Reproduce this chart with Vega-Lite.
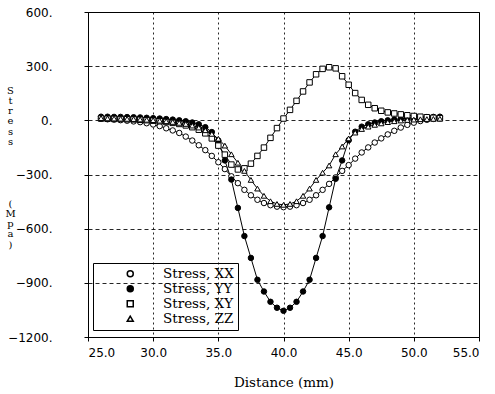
{
"$schema":"https://vega.github.io/schema/vega-lite/v6.json",
"width":391,"height":325,
"autosize":{"type":"none"},
"padding":{"left":88,"top":12,"right":16,"bottom":57},
"background":"white",
"data":{"values":[
{"x":26,"y":8,"s":"XX"},{"x":26.5,"y":6,"s":"XX"},{"x":27,"y":4,"s":"XX"},{"x":27.5,"y":1,"s":"XX"},{"x":28,"y":-2,"s":"XX"},{"x":28.5,"y":-6,"s":"XX"},{"x":29,"y":-10,"s":"XX"},{"x":29.5,"y":-16,"s":"XX"},{"x":30,"y":-23,"s":"XX"},{"x":30.5,"y":-32,"s":"XX"},{"x":31,"y":-44,"s":"XX"},{"x":31.5,"y":-56,"s":"XX"},{"x":32,"y":-70,"s":"XX"},{"x":32.5,"y":-90,"s":"XX"},{"x":33,"y":-112,"s":"XX"},{"x":33.5,"y":-138,"s":"XX"},{"x":34,"y":-165,"s":"XX"},{"x":34.5,"y":-197,"s":"XX"},{"x":35,"y":-232,"s":"XX"},{"x":35.5,"y":-270,"s":"XX"},{"x":36,"y":-310,"s":"XX"},{"x":36.5,"y":-348,"s":"XX"},{"x":37,"y":-385,"s":"XX"},{"x":37.5,"y":-415,"s":"XX"},{"x":38,"y":-440,"s":"XX"},{"x":38.5,"y":-458,"s":"XX"},{"x":39,"y":-470,"s":"XX"},{"x":39.5,"y":-478,"s":"XX"},{"x":40,"y":-481,"s":"XX"},{"x":40.5,"y":-478,"s":"XX"},{"x":41,"y":-470,"s":"XX"},{"x":41.5,"y":-458,"s":"XX"},{"x":42,"y":-440,"s":"XX"},{"x":42.5,"y":-415,"s":"XX"},{"x":43,"y":-385,"s":"XX"},{"x":43.5,"y":-352,"s":"XX"},{"x":44,"y":-316,"s":"XX"},{"x":44.5,"y":-280,"s":"XX"},{"x":45,"y":-248,"s":"XX"},{"x":45.5,"y":-212,"s":"XX"},{"x":46,"y":-178,"s":"XX"},{"x":46.5,"y":-150,"s":"XX"},{"x":47,"y":-123,"s":"XX"},{"x":47.5,"y":-100,"s":"XX"},{"x":48,"y":-78,"s":"XX"},{"x":48.5,"y":-58,"s":"XX"},{"x":49,"y":-40,"s":"XX"},{"x":49.5,"y":-25,"s":"XX"},{"x":50,"y":-13,"s":"XX"},{"x":50.5,"y":-4,"s":"XX"},{"x":51,"y":3,"s":"XX"},{"x":51.5,"y":8,"s":"XX"},{"x":52,"y":12,"s":"XX"},
{"x":26,"y":20,"s":"YY"},{"x":26.5,"y":20,"s":"YY"},{"x":27,"y":19,"s":"YY"},{"x":27.5,"y":19,"s":"YY"},{"x":28,"y":18,"s":"YY"},{"x":28.5,"y":17,"s":"YY"},{"x":29,"y":16,"s":"YY"},{"x":29.5,"y":14,"s":"YY"},{"x":30,"y":12,"s":"YY"},{"x":30.5,"y":10,"s":"YY"},{"x":31,"y":7,"s":"YY"},{"x":31.5,"y":4,"s":"YY"},{"x":32,"y":0,"s":"YY"},{"x":32.5,"y":-5,"s":"YY"},{"x":33,"y":-12,"s":"YY"},{"x":33.5,"y":-22,"s":"YY"},{"x":34,"y":-38,"s":"YY"},{"x":34.5,"y":-65,"s":"YY"},{"x":35,"y":-112,"s":"YY"},{"x":35.5,"y":-222,"s":"YY"},{"x":36,"y":-328,"s":"YY"},{"x":36.5,"y":-485,"s":"YY"},{"x":37,"y":-641,"s":"YY"},{"x":37.5,"y":-762,"s":"YY"},{"x":38,"y":-883,"s":"YY"},{"x":38.5,"y":-948,"s":"YY"},{"x":39,"y":-1005,"s":"YY"},{"x":39.5,"y":-1038,"s":"YY"},{"x":40,"y":-1055,"s":"YY"},{"x":40.5,"y":-1038,"s":"YY"},{"x":41,"y":-1005,"s":"YY"},{"x":41.5,"y":-948,"s":"YY"},{"x":42,"y":-883,"s":"YY"},{"x":42.5,"y":-762,"s":"YY"},{"x":43,"y":-641,"s":"YY"},{"x":43.5,"y":-482,"s":"YY"},{"x":44,"y":-324,"s":"YY"},{"x":44.5,"y":-222,"s":"YY"},{"x":45,"y":-110,"s":"YY"},{"x":45.5,"y":-63,"s":"YY"},{"x":46,"y":-35,"s":"YY"},{"x":46.5,"y":-22,"s":"YY"},{"x":47,"y":-12,"s":"YY"},{"x":47.5,"y":-5,"s":"YY"},{"x":48,"y":0,"s":"YY"},{"x":48.5,"y":4,"s":"YY"},{"x":49,"y":8,"s":"YY"},{"x":49.5,"y":11,"s":"YY"},{"x":50,"y":14,"s":"YY"},{"x":50.5,"y":16,"s":"YY"},{"x":51,"y":18,"s":"YY"},{"x":51.5,"y":19,"s":"YY"},{"x":52,"y":20,"s":"YY"},
{"x":26,"y":10,"s":"XY"},{"x":26.5,"y":9,"s":"XY"},{"x":27,"y":8,"s":"XY"},{"x":27.5,"y":7,"s":"XY"},{"x":28,"y":6,"s":"XY"},{"x":28.5,"y":5,"s":"XY"},{"x":29,"y":3,"s":"XY"},{"x":29.5,"y":1,"s":"XY"},{"x":30,"y":-2,"s":"XY"},{"x":30.5,"y":-5,"s":"XY"},{"x":31,"y":-9,"s":"XY"},{"x":31.5,"y":-14,"s":"XY"},{"x":32,"y":-20,"s":"XY"},{"x":32.5,"y":-28,"s":"XY"},{"x":33,"y":-38,"s":"XY"},{"x":33.5,"y":-52,"s":"XY"},{"x":34,"y":-72,"s":"XY"},{"x":34.5,"y":-100,"s":"XY"},{"x":35,"y":-140,"s":"XY"},{"x":35.5,"y":-190,"s":"XY"},{"x":36,"y":-245,"s":"XY"},{"x":36.5,"y":-272,"s":"XY"},{"x":37,"y":-266,"s":"XY"},{"x":37.5,"y":-240,"s":"XY"},{"x":38,"y":-197,"s":"XY"},{"x":38.5,"y":-151,"s":"XY"},{"x":39,"y":-97,"s":"XY"},{"x":39.5,"y":-43,"s":"XY"},{"x":40,"y":10,"s":"XY"},{"x":40.5,"y":58,"s":"XY"},{"x":41,"y":108,"s":"XY"},{"x":41.5,"y":160,"s":"XY"},{"x":42,"y":210,"s":"XY"},{"x":42.5,"y":255,"s":"XY"},{"x":43,"y":285,"s":"XY"},{"x":43.5,"y":294,"s":"XY"},{"x":44,"y":288,"s":"XY"},{"x":44.5,"y":244,"s":"XY"},{"x":45,"y":197,"s":"XY"},{"x":45.5,"y":151,"s":"XY"},{"x":46,"y":113,"s":"XY"},{"x":46.5,"y":86,"s":"XY"},{"x":47,"y":67,"s":"XY"},{"x":47.5,"y":53,"s":"XY"},{"x":48,"y":44,"s":"XY"},{"x":48.5,"y":38,"s":"XY"},{"x":49,"y":33,"s":"XY"},{"x":49.5,"y":28,"s":"XY"},{"x":50,"y":24,"s":"XY"},{"x":50.5,"y":20,"s":"XY"},{"x":51,"y":17,"s":"XY"},{"x":51.5,"y":14,"s":"XY"},{"x":52,"y":12,"s":"XY"},
{"x":26,"y":12,"s":"ZZ"},{"x":26.5,"y":11,"s":"ZZ"},{"x":27,"y":10,"s":"ZZ"},{"x":27.5,"y":9,"s":"ZZ"},{"x":28,"y":8,"s":"ZZ"},{"x":28.5,"y":7,"s":"ZZ"},{"x":29,"y":5,"s":"ZZ"},{"x":29.5,"y":3,"s":"ZZ"},{"x":30,"y":1,"s":"ZZ"},{"x":30.5,"y":-2,"s":"ZZ"},{"x":31,"y":-5,"s":"ZZ"},{"x":31.5,"y":-9,"s":"ZZ"},{"x":32,"y":-14,"s":"ZZ"},{"x":32.5,"y":-20,"s":"ZZ"},{"x":33,"y":-29,"s":"ZZ"},{"x":33.5,"y":-40,"s":"ZZ"},{"x":34,"y":-55,"s":"ZZ"},{"x":34.5,"y":-75,"s":"ZZ"},{"x":35,"y":-102,"s":"ZZ"},{"x":35.5,"y":-140,"s":"ZZ"},{"x":36,"y":-188,"s":"ZZ"},{"x":36.5,"y":-235,"s":"ZZ"},{"x":37,"y":-280,"s":"ZZ"},{"x":37.5,"y":-330,"s":"ZZ"},{"x":38,"y":-378,"s":"ZZ"},{"x":38.5,"y":-418,"s":"ZZ"},{"x":39,"y":-448,"s":"ZZ"},{"x":39.5,"y":-463,"s":"ZZ"},{"x":40,"y":-468,"s":"ZZ"},{"x":40.5,"y":-463,"s":"ZZ"},{"x":41,"y":-448,"s":"ZZ"},{"x":41.5,"y":-418,"s":"ZZ"},{"x":42,"y":-378,"s":"ZZ"},{"x":42.5,"y":-330,"s":"ZZ"},{"x":43,"y":-290,"s":"ZZ"},{"x":43.5,"y":-250,"s":"ZZ"},{"x":44,"y":-188,"s":"ZZ"},{"x":44.5,"y":-145,"s":"ZZ"},{"x":45,"y":-100,"s":"ZZ"},{"x":45.5,"y":-68,"s":"ZZ"},{"x":46,"y":-48,"s":"ZZ"},{"x":46.5,"y":-35,"s":"ZZ"},{"x":47,"y":-25,"s":"ZZ"},{"x":47.5,"y":-17,"s":"ZZ"},{"x":48,"y":-10,"s":"ZZ"},{"x":48.5,"y":-5,"s":"ZZ"},{"x":49,"y":-1,"s":"ZZ"},{"x":49.5,"y":2,"s":"ZZ"},{"x":50,"y":4,"s":"ZZ"},{"x":50.5,"y":6,"s":"ZZ"},{"x":51,"y":7,"s":"ZZ"},{"x":51.5,"y":8,"s":"ZZ"},{"x":52,"y":9,"s":"ZZ"}
]},
"encoding":{
 "x":{"field":"x","type":"quantitative","scale":{"domain":[25,55],"nice":false,"zero":false},
  "axis":{"values":[25,30,35,40,45,50,55],"format":".1f","title":"Distance (mm)","titleX":195.5,"titleY":49,"titleBaseline":"alphabetic","titleAlign":"center","labelPadding":6,"gridDash":[2,3]}}
},
"layer":[
 {"mark":{"type":"line","color":"black","strokeWidth":1},
  "encoding":{
   "y":{"field":"y","type":"quantitative","scale":{"domain":[-1200,600],"nice":false,"zero":false},
    "axis":{"values":[-1200,-900,-600,-300,0,300,600],"labelExpr":"format(datum.value,'d')+'.'","labelPadding":32,
     "title":["S","t","r","e","s","s"],"titleAngle":0,"titleAlign":"center","titleBaseline":"top","titleX":-78,"titleY":73,"titleFontSize":10,"titleLineHeight":10.3,"gridDash":[4,3]}},
   "detail":{"field":"s"}}},
 {"mark":{"type":"point","stroke":"black","strokeWidth":1,"opacity":1,"size":30},
  "encoding":{
   "y":{"field":"y","type":"quantitative","axis":null},
   "shape":{"field":"s","type":"nominal","scale":{"domain":["XX","YY","XY","ZZ"],"range":["circle","circle","square","triangle-up"]},
    "legend":{"orient":"none","legendX":5,"legendY":251,"title":null,"symbolSize":36,"symbolOffset":26.5,"labelOffset":26,"padding":4,"rowPadding":0,"strokeColor":"black","fillColor":"transparent","labelFont":"DejaVu Serif","labelFontSize":13.5,"labelColor":"black","labelExpr":"'Stress, ' + datum.label",
     "encode":{"symbols":{"stroke":{"value":"black"},"strokeWidth":{"value":1},"opacity":{"value":1}}}}},
   "fill":{"field":"s","type":"nominal","scale":{"domain":["XX","YY","XY","ZZ"],"range":["white","black","white","white"]},
    "legend":{"orient":"none","legendX":5,"legendY":251,"title":null,"symbolSize":36,"symbolOffset":26.5,"labelOffset":26,"padding":4,"rowPadding":0,"strokeColor":"black","fillColor":"transparent","labelFont":"DejaVu Serif","labelFontSize":13.5,"labelColor":"black","labelExpr":"'Stress, ' + datum.label",
     "encode":{"symbols":{"stroke":{"value":"black"},"strokeWidth":{"value":1},"opacity":{"value":1}}}}}
  }},
 {"transform":[{"filter":{"field":"y","gt":100000}}],
  "mark":{"type":"point","stroke":"black","fill":"white","strokeWidth":1,"opacity":1,"size":36},
  "encoding":{
   "y":{"field":"y","type":"quantitative",
    "axis":{"orient":"left","labels":false,"ticks":false,"domain":false,"grid":false,
     "title":["(","M","p","a",")"],"titleAngle":0,"titleAlign":"center","titleBaseline":"top","titleX":-78,"titleY":186,"titleFontSize":10,"titleLineHeight":10.3}}
  }}
],
"resolve":{"axis":{"y":"independent"}},
"config":{
 "view":{"stroke":"black","strokeWidth":1},
 "axis":{"labelFont":"DejaVu Sans","labelFontSize":12,"labelColor":"black","titleFont":"DejaVu Serif","titleFontSize":13.5,"titleFontWeight":"normal","titleColor":"black","domainColor":"black","tickColor":"black","tickSize":4,"grid":true,"gridColor":"black","gridOpacity":0.85,"gridWidth":1}
}
}
